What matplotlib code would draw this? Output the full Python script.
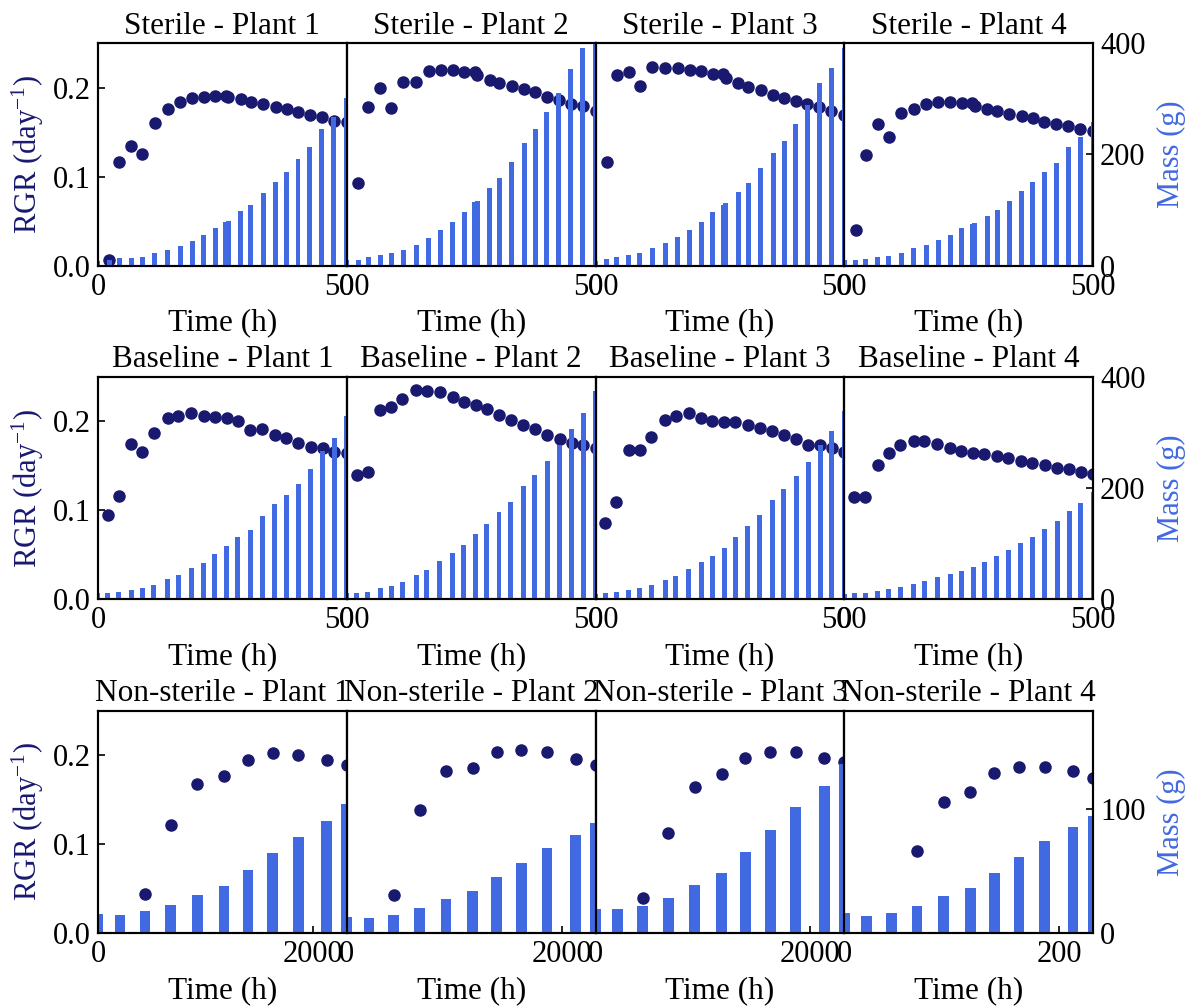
import numpy as np
import matplotlib
matplotlib.use('Agg')
import matplotlib.pyplot as plt

# sampling times (h)
sterileTime = [0, 23, 43, 67, 89, 114, 140, 165, 189, 213, 236, 257, 262, 287, 307, 332, 357, 379, 402, 426, 450, 474, 500]
baselineTime = [0, 20, 42, 67, 89, 112, 140, 161, 187, 213, 235, 259, 281, 306, 330, 355, 378, 403, 428, 452, 475, 500]
nonSterileTime = [0, 206, 438, 678, 924, 1174, 1396, 1626, 1864, 2130, 2316]
nonSterileTimeP4 = [0, 20.6, 43.8, 67.8, 92.4, 117.4, 139.6, 162.6, 186.4, 213.0, 231.6]

# relative growth rate (day^-1), NaN where no point was drawn
sterileRGR = [
    [np.nan, 0.006, 0.116, 0.134, 0.126, 0.160, 0.176, 0.184, 0.188, 0.190, 0.191, 0.191, 0.190, 0.187, 0.184, 0.182, 0.178, 0.176, 0.173, 0.169, 0.167, 0.163, 0.161],
    [np.nan, 0.093, 0.178, 0.200, 0.177, 0.206, 0.206, 0.219, 0.220, 0.220, 0.218, 0.218, 0.214, 0.209, 0.205, 0.202, 0.199, 0.195, 0.190, 0.186, 0.182, 0.179, 0.174],
    [np.nan, 0.116, 0.214, 0.218, 0.202, 0.223, 0.222, 0.222, 0.220, 0.219, 0.216, 0.215, 0.211, 0.205, 0.201, 0.197, 0.192, 0.189, 0.185, 0.182, 0.178, 0.174, 0.169],
    [np.nan, 0.040, 0.124, 0.159, 0.145, 0.172, 0.176, 0.182, 0.184, 0.184, 0.183, 0.183, 0.179, 0.176, 0.174, 0.171, 0.168, 0.166, 0.162, 0.159, 0.157, 0.154, 0.151],
]
baselineRGR = [
    [np.nan, 0.095, 0.116, 0.175, 0.166, 0.187, 0.204, 0.206, 0.209, 0.206, 0.205, 0.204, 0.200, 0.190, 0.191, 0.185, 0.181, 0.176, 0.171, 0.170, 0.166, 0.164],
    [np.nan, 0.140, 0.143, 0.213, 0.216, 0.225, 0.235, 0.234, 0.233, 0.228, 0.222, 0.219, 0.214, 0.207, 0.202, 0.196, 0.191, 0.185, 0.180, 0.176, 0.173, 0.170],
    [np.nan, 0.086, 0.109, 0.168, 0.168, 0.183, 0.202, 0.206, 0.209, 0.204, 0.201, 0.199, 0.199, 0.196, 0.193, 0.189, 0.185, 0.180, 0.174, 0.173, 0.170, 0.166],
    [np.nan, 0.115, 0.115, 0.151, 0.165, 0.173, 0.178, 0.178, 0.175, 0.170, 0.167, 0.165, 0.163, 0.161, 0.159, 0.156, 0.153, 0.151, 0.148, 0.146, 0.143, 0.141],
]
nonSterileRGR = [
    [np.nan, np.nan, 0.044, 0.122, 0.168, 0.177, 0.195, 0.202, 0.200, 0.195, 0.189],
    [np.nan, np.nan, 0.043, 0.138, 0.182, 0.186, 0.203, 0.206, 0.204, 0.196, 0.189],
    [np.nan, np.nan, 0.039, 0.113, 0.164, 0.179, 0.197, 0.203, 0.203, 0.197, 0.192],
    [np.nan, np.nan, np.nan, 0.092, 0.147, 0.158, 0.180, 0.187, 0.187, 0.182, 0.174],
]

# plant mass (g)
sterileMass = [
    [9, 10, 13, 14, 16, 22, 29, 36, 45, 56, 68, 78, 81, 99, 110, 130, 151, 169, 191, 213, 245, 268, 301],
    [10, 11, 15, 20, 22, 29, 38, 50, 65, 79, 97, 114, 117, 139, 157, 187, 221, 246, 277, 311, 353, 392, 410],
    [9, 12, 16, 20, 23, 32, 41, 52, 65, 79, 97, 110, 113, 133, 149, 176, 203, 225, 254, 289, 329, 356, 392],
    [10, 10, 12, 16, 17, 23, 31, 38, 47, 56, 67, 75, 77, 90, 101, 117, 135, 151, 168, 185, 213, 231, 259],
]
baselineMass = [
    [11, 11, 13, 17, 20, 25, 37, 44, 56, 66, 81, 96, 113, 125, 150, 171, 187, 208, 235, 266, 291, 329],
    [11, 11, 13, 20, 24, 31, 44, 53, 69, 83, 98, 117, 135, 157, 175, 204, 223, 248, 277, 307, 335, 374],
    [10, 11, 13, 17, 20, 25, 35, 42, 54, 67, 78, 92, 112, 132, 152, 178, 198, 222, 247, 278, 302, 338],
    [10, 11, 11, 15, 19, 22, 28, 33, 40, 46, 51, 58, 67, 78, 89, 101, 112, 126, 141, 159, 173, 193],
]
nonSterileMass = [
    [15.6, 14.8, 17.5, 22.9, 31.0, 38.3, 51.2, 64.9, 78.1, 90.8, 104.5],
    [13.2, 12.4, 14.8, 20.5, 27.8, 34.2, 45.5, 56.9, 69.0, 79.5, 89.2],
    [19.7, 19.7, 22.1, 28.6, 39.1, 48.8, 65.7, 83.5, 102.1, 119.1, 136.9],
    [16.4, 14.0, 16.4, 22.1, 30.2, 36.6, 48.8, 61.7, 74.6, 86.0, 94.9],
]

CONDITIONS = ['Sterile', 'Baseline', 'Non-sterile']
PLANTS = ['Plant 1', 'Plant 2', 'Plant 3', 'Plant 4']

RGR_COLOR = '#191970'
MASS_COLOR = '#4169E1'


def plotPanel(ax, time, rgr, mass, barWidth, xmax, xticks, massMax, massTicks, col, title):
    ax2 = ax.twinx()
    ax.scatter(time, rgr, s=64, color=RGR_COLOR, zorder=3)
    ax2.bar(time, mass, width=barWidth, color=MASS_COLOR)

    ax.set_xlim(0, xmax)
    ax.set_xticks(xticks)
    ax.set_ylim(0, 0.25)
    ax.set_yticks([0.0, 0.1, 0.2])
    ax2.set_ylim(0, massMax)
    ax2.set_yticks(massTicks)
    ax.set_title(title, pad=7, fontsize=22.5)
    ax.set_xlabel('Time (h)', labelpad=5, fontsize=22.5)

    ax.tick_params(direction='in', length=5, width=1.2, pad=5)
    ax2.tick_params(direction='in', length=5, width=1.2, pad=5)

    if col == 0:
        ax.set_ylabel('RGR (day$^{-1}$)', color=RGR_COLOR, fontsize=22)
        ax.yaxis.set_label_coords(-0.21, 0.5)
    else:
        ax.tick_params(axis='y', left=False, labelleft=False)
    if col == 3:
        ax2.set_ylabel('Mass (g)', color=MASS_COLOR, fontsize=22)
        ax2.yaxis.set_label_coords(1.255, 0.5)
    else:
        ax2.tick_params(axis='y', right=False, labelright=False)

    for a in (ax, ax2):
        for spine in a.spines.values():
            spine.set_linewidth(1.5)


def main():
    plt.rcParams['font.family'] = ['Liberation Serif', 'DejaVu Serif']
    plt.rcParams['font.size'] = 22
    plt.rcParams['mathtext.fontset'] = 'custom'
    plt.rcParams['mathtext.rm'] = 'Liberation Serif'
    plt.rcParams['mathtext.it'] = 'Liberation Serif:italic'

    fig, axes = plt.subplots(3, 4, figsize=(11.92, 10.06), dpi=100)
    fig.subplots_adjust(left=0.0822, right=0.917, top=0.957, bottom=0.0725, hspace=0.5, wspace=0)

    for j in range(4):
        plotPanel(axes[0, j], sterileTime, sterileRGR[j], sterileMass[j], 10, 500, [0, 500],
                  400, [0, 200, 400], j, f"{CONDITIONS[0]} - {PLANTS[j]}")
        plotPanel(axes[1, j], baselineTime, baselineRGR[j], baselineMass[j], 10, 500, [0, 500],
                  400, [0, 200, 400], j, f"{CONDITIONS[1]} - {PLANTS[j]}")
        if j < 3:
            plotPanel(axes[2, j], nonSterileTime, nonSterileRGR[j], nonSterileMass[j], 100, 2316, [0, 2000],
                      180, [0, 100], j, f"{CONDITIONS[2]} - {PLANTS[j]}")
        else:
            plotPanel(axes[2, j], nonSterileTimeP4, nonSterileRGR[j], nonSterileMass[j], 10, 231.6, [0, 200],
                      180, [0, 100], j, f"{CONDITIONS[2]} - {PLANTS[j]}")

    fig.savefig('out.png', dpi=100)


if __name__ == '__main__':
    main()
